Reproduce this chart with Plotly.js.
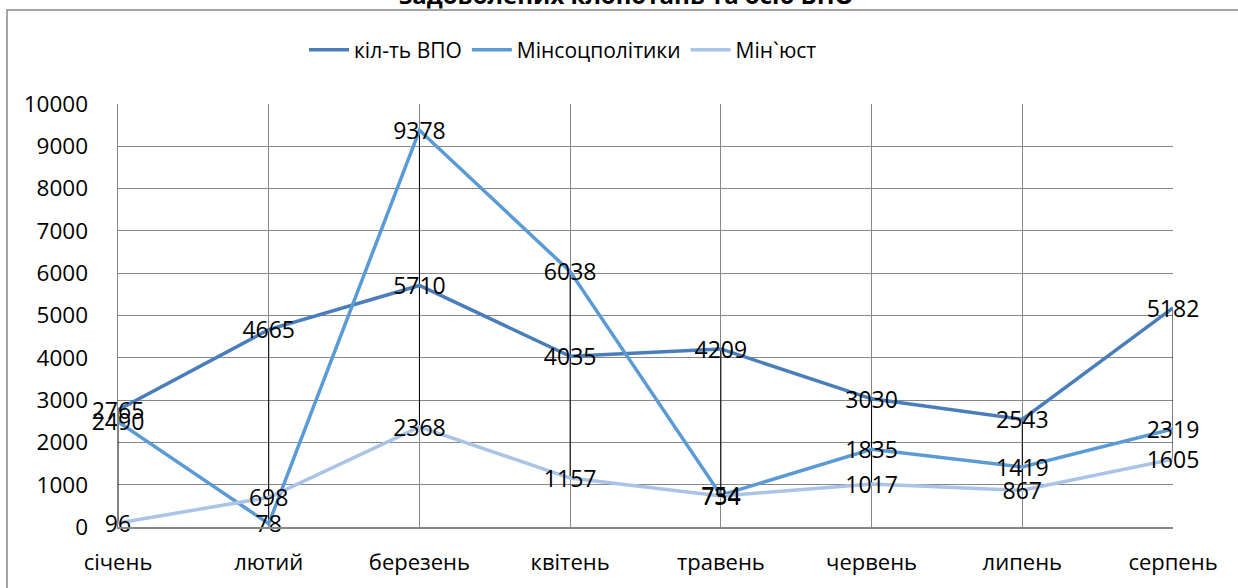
<!DOCTYPE html>
<html>
<head>
<meta charset="utf-8">
<script src="https://cdn.plot.ly/plotly-3.0.1.min.js"></script>
<style>html,body{margin:0;padding:0;background:#fff;}#chart{width:1238px;height:588px;}</style>
</head>
<body>
<div id="chart"></div>
<script>
const months = ["січень", "лютий", "березень", "квітень", "травень", "червень", "липень", "серпень"];
const vpo = [2765, 4665, 5710, 4035, 4209, 3030, 2543, 5182];
const minsoc = [2490, 78, 9378, 6038, 754, 1835, 1419, 2319];
const minjust = [96, 698, 2368, 1157, 734, 1017, 867, 1605];
const seriesNames = ["кіл-ть ВПО", "Мінсоцполітики", "Мін`юст"];
const titleText = "задоволених клопотань та осіб ВПО";
const yTicks = [0, 1000, 2000, 3000, 4000, 5000, 6000, 7000, 8000, 9000, 10000];

const colors = ["#4A7EBB", "#5B9BD5", "#A9C4E6"];
const FONT = "Open Sans, Liberation Sans, sans-serif";
const all = [vpo, minsoc, minjust];

// high-low lines
const hlx = [], hly = [];
months.forEach((m, i) => {
  const vals = all.map(s => s[i]);
  hlx.push(m, m, null);
  hly.push(Math.max(...vals), Math.min(...vals), null);
});

const traces = [{
  x: hlx, y: hly, type: "scatter", mode: "lines",
  line: {color: "#000000", width: 1}, showlegend: false, hoverinfo: "skip"
}];
all.forEach((s, k) => {
  traces.push({
    x: months, y: s, type: "scatter", mode: "lines", name: seriesNames[k],
    line: {color: colors[k], width: 3.5}
  });
});
all.forEach((s, k) => {
  traces.push({
    x: months, y: s, type: "scatter", mode: "text", text: s.map(String), yaxis: "y2",
    textposition: "middle center", showlegend: false, cliponaxis: false,
    textfont: {family: FONT, size: 23, color: "#000"}
  });
});

const L = 118, R = 1173, T = 104, B = 527;
const W = R - L, H = B - T;
const layout = {
  width: 1238, height: 588,
  margin: {l: L, r: 1238 - R, t: T, b: 588 - B, pad: 0},
  paper_bgcolor: "#fff", plot_bgcolor: "#fff",
  font: {family: FONT, size: 22, color: "#000"},
  showlegend: true,
  legend: {
    orientation: "h", x: (563 - L) / W, xanchor: "center",
    y: (B - 50) / H, yanchor: "middle",
    font: {family: FONT, size: 21, color: "#000"}, itemwidth: 40
  },
  xaxis: {
    type: "category", range: [0, 7], showgrid: true, gridcolor: "#868686", gridwidth: 1,
    showline: true, linecolor: "#868686", linewidth: 1.5, ticks: "", ticklabelstandoff: 15,
    tickfont: {family: FONT, size: 22, color: "#000"}, zeroline: false, fixedrange: true
  },
  yaxis: {
    range: [0, 10000], tickvals: yTicks, ticktext: yTicks.map(String),
    showgrid: true, gridcolor: "#868686", gridwidth: 1,
    showline: true, linecolor: "#868686", linewidth: 1.5, ticks: "", ticklabelstandoff: 24,
    tickfont: {family: FONT, size: 22.5, color: "#000"}, zeroline: false
  },
  yaxis2: {
    overlaying: "y", range: [70, 10070], visible: false, showgrid: false, zeroline: false
  },
  annotations: [{
    text: "<b>" + titleText + "</b>", xref: "paper", yref: "paper",
    x: (626 - L) / W, y: 1, xanchor: "center", yanchor: "middle", yshift: 110,
    showarrow: false, font: {family: FONT, size: 24, color: "#000"}
  }],
  shapes: [{
    type: "rect", xref: "paper", yref: "paper", layer: "below",
    x0: (7 - L) / W, x1: (1260 - L) / W, y0: (B - 620) / H, y1: (B - 10) / H,
    line: {color: "#888888", width: 1.5}, fillcolor: "rgba(0,0,0,0)"
  }]
};
Plotly.newPlot("chart", traces, layout, {displayModeBar: false, staticPlot: true});
</script>
</body>
</html>
